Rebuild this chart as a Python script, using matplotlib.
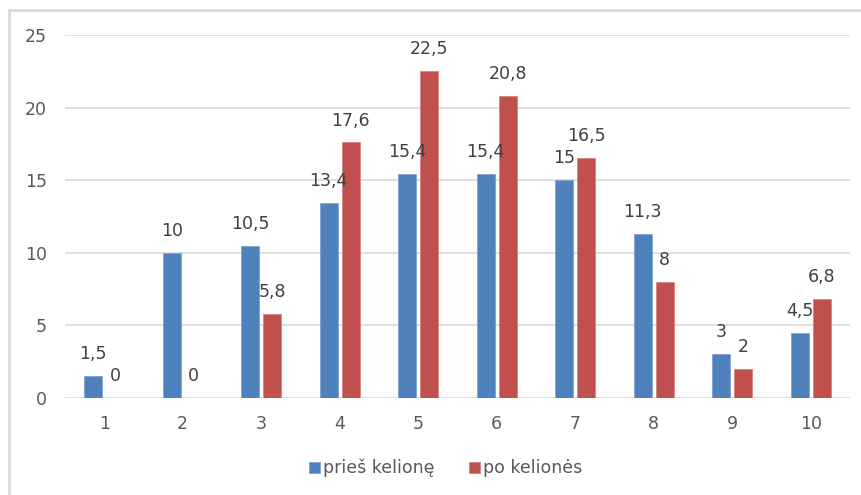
import numpy as np
import matplotlib.pyplot as plt
from matplotlib.lines import Line2D

categories = ["1", "2", "3", "4", "5", "6", "7", "8", "9", "10"]
pries = [1.5, 10, 10.5, 13.4, 15.4, 15.4, 15, 11.3, 3, 4.5]
po = [0, 0, 5.8, 17.6, 22.5, 20.8, 16.5, 8, 2, 6.8]
series_names = ["prieš kelionę", "po kelionės"]

blue = "#4F81BD"
red = "#C0504D"
txt = "#595959"

def fmt(v):
    s = ("%g" % v).replace(".", ",")
    return s

fig = plt.figure(figsize=(8.62, 4.95), dpi=100)
ax = fig.add_axes([65 / 862, 1 - 398 / 495, 785 / 862, 363 / 495])

x = np.arange(1, len(categories) + 1)
w = 0.225
off = 0.14
b1 = ax.bar(x - off, pries, w, color=blue, edgecolor="#7fa3cf", linewidth=0.6, zorder=3, label=series_names[0])
b2 = ax.bar(x + off, po, w, color=red, edgecolor="#d58482", linewidth=0.6, zorder=3, label=series_names[1])

for bars, vals in ((b1, pries), (b2, po)):
    for r, v in zip(bars, vals):
        ax.annotate(fmt(v), (r.get_x() + r.get_width() / 2, v),
                    xytext=(0, 15.8), textcoords="offset points",
                    ha="center", va="center", fontsize=12.5, color="#404040")

ax.set_xlim(0.5, 10.5)
ax.set_ylim(0, 25)
ax.set_yticks([0, 5, 10, 15, 20, 25])
ax.set_xticks(x)
ax.set_xticklabels(categories)
ax.yaxis.grid(True, color="#D9D9D9", linewidth=1.2, zorder=0)
ax.set_axisbelow(True)
ax.tick_params(length=0, labelsize=12.5, colors=txt)
ax.tick_params(axis="y", pad=13)
ax.tick_params(axis="x", pad=12)
for s in ax.spines.values():
    s.set_visible(False)

ax.legend(handles=[b1, b2], loc="center", bbox_to_anchor=(446 / 862, 1 - 468 / 495),
          bbox_transform=fig.transFigure, ncol=2, frameon=False, fontsize=12.5,
          labelcolor=txt, handlelength=0.6, handleheight=0.6, handletextpad=0.2,
          columnspacing=2.0)

# chart border (top and left visible)
fig.add_artist(Line2D([9 / 862, 1], [1 - 10 / 495, 1 - 10 / 495], transform=fig.transFigure,
                      color="#D9D9D9", linewidth=2))
fig.add_artist(Line2D([9 / 862, 9 / 862], [0, 1 - 10 / 495], transform=fig.transFigure,
                      color="#D9D9D9", linewidth=2))

fig.savefig("out.png", dpi=100)
